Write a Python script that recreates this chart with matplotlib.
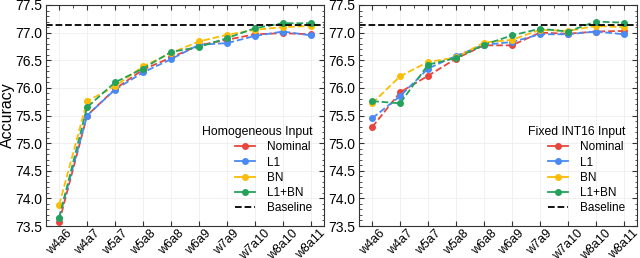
import numpy as np
import matplotlib.pyplot as plt
from matplotlib.lines import Line2D
from matplotlib.ticker import AutoMinorLocator, MultipleLocator

# ---------------------------------------------------------
# data
# ---------------------------------------------------------
configs = ["w4a6", "w4a7", "w5a7", "w5a8", "w6a8", "w6a9", "w7a9", "w7a10", "w8a10", "w8a11"]
baseline = 77.13

homog_nominal = [73.57, 75.50, 75.98, 76.33, 76.55, 76.77, 76.87, 76.97, 76.99, 76.97]
homog_l1      = [73.65, 75.50, 75.97, 76.28, 76.52, 76.78, 76.81, 76.94, 77.02, 76.95]
homog_bn      = [73.88, 75.76, 76.03, 76.39, 76.63, 76.84, 76.96, 77.05, 77.10, 77.12]
homog_l1bn    = [73.65, 75.65, 76.10, 76.35, 76.65, 76.74, 76.90, 77.08, 77.17, 77.17]

int16_nominal = [75.29, 75.92, 76.22, 76.53, 76.77, 76.77, 77.00, 76.98, 77.02, 77.03]
int16_l1      = [75.45, 75.85, 76.35, 76.58, 76.78, 76.83, 76.97, 76.97, 77.02, 76.97]
int16_bn      = [75.72, 76.21, 76.47, 76.55, 76.82, 76.87, 77.05, 77.03, 77.12, 77.10]
int16_l1bn    = [75.76, 75.72, 76.42, 76.54, 76.78, 76.95, 77.07, 77.02, 77.20, 77.18]

labels = ["Nominal", "L1", "BN", "L1+BN"]
colors = ["#e8453c", "#4a8af4", "#fbbc05", "#24a15a"]

plt.rcParams['font.family'] = ['Liberation Sans', 'DejaVu Sans']
plt.rcParams['font.size'] = 9

fig = plt.figure(figsize=(6.4, 2.58), dpi=100)
ax1 = fig.add_axes([46 / 640, 1 - 226 / 258, 278 / 640, 221 / 258])
ax2 = fig.add_axes([359 / 640, 1 - 226 / 258, 278 / 640, 221 / 258])

panels = [
    (ax1, [homog_nominal, homog_l1, homog_bn, homog_l1bn], "Homogeneous Input"),
    (ax2, [int16_nominal, int16_l1, int16_bn, int16_l1bn], "Fixed INT16 Input"),
]

x = np.arange(len(configs))
for ax, series, title in panels:
    handles = []
    for vals, lab, c in zip(series, labels, colors):
        ax.plot(x, vals, '--', color=c, marker='o', markersize=4, lw=1.3)
        # legend shows a solid stroke with the marker
        handles.append(Line2D([], [], color=c, marker='o', markersize=4, lw=1.3, label=lab))
    ax.axhline(baseline, color='black', ls='--', lw=1.3)
    handles.append(Line2D([], [], color='black', ls='--', lw=1.3, label='Baseline'))

    ax.set_ylim(73.5, 77.5)
    ax.set_xlim(-0.47, 9.47)
    ax.set_xticks(x)
    ax.set_xticklabels(configs, rotation=45, ha='center')
    ax.yaxis.set_major_locator(MultipleLocator(0.5))
    ax.yaxis.set_minor_locator(AutoMinorLocator(5))
    ax.xaxis.set_minor_locator(AutoMinorLocator(2))
    ax.tick_params(which='both', direction='in', top=True, right=True, color='#333333')
    ax.tick_params(which='major', length=3.5)
    ax.tick_params(which='minor', length=1.8)
    ax.tick_params(axis='x', which='minor', top=True, bottom=False)
    ax.tick_params(axis='x', pad=1, labelsize=9)
    ax.tick_params(axis='y', pad=2.5, labelsize=10)
    ax.grid(True, color='#eeeeee', lw=0.6)
    ax.set_axisbelow(True)
    for s in ax.spines.values():
        s.set_color('#333333')

    leg = ax.legend(handles=handles, loc='lower right', frameon=False, title=title,
                    fontsize=8.5, title_fontsize=8.8, handlelength=1.7, handletextpad=1.0,
                    labelspacing=0.27, borderaxespad=0.6)
    leg._legend_box.align = "right"

ax1.set_ylabel("Accuracy", fontsize=11.5)
ax1.yaxis.set_label_coords(-0.11, 0.5)

fig.savefig("out.png", dpi=100)
